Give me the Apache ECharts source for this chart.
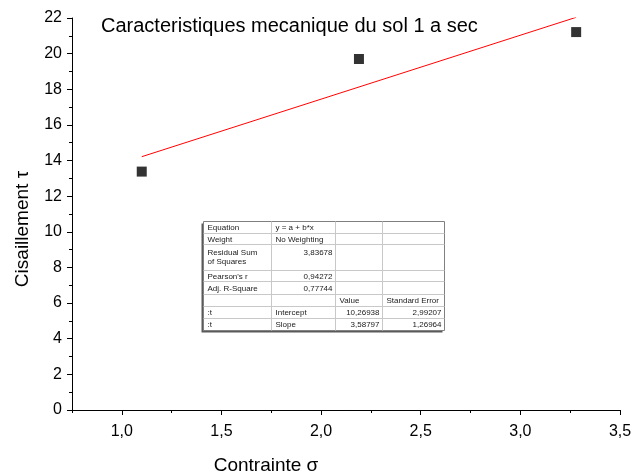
<!DOCTYPE html>
<html>
<head>
<meta charset="utf-8">
<title>Caracteristiques mecanique du sol 1 a sec</title>
<script src="https://cdn.jsdelivr.net/npm/echarts@6/dist/echarts.min.js"></script>
<style>
  html, body { margin: 0; padding: 0; background: #ffffff; }
  #chart { width: 635px; height: 474px; }
</style>
</head>
<body>
<div id="chart"></div>
<script>
// Measured points: normal stress (sigma) vs shear stress (tau)
const contrainte = [1.10, 2.19, 3.28];
const cisaillement = [13.38, 19.70, 21.21];

// Linear fit y = a + b*x
const fitIntercept = 10.26938;
const fitSlope = 3.58797;
const fitInterceptErr = 2.99207;
const fitSlopeErr = 1.26964;
const residualSS = 3.83678;
const pearsonR = 0.94272;
const adjR2 = 0.77744;

// Axis ticks
const xMajorTicks = [1.0, 1.5, 2.0, 2.5, 3.0, 3.5];
const xMinorTicks = [0.75, 1.25, 1.75, 2.25, 2.75, 3.25];

const fr = (v, d) => v.toFixed(d).replace('.', ',');

// Fit statistics table
const tableRows = [
  ['Equation', 'y = a + b*x', '', ''],
  ['Weight', 'No Weighting', '', ''],
  ['Residual Sum\nof Squares', fr(residualSS, 5), '', ''],
  ["Pearson's r", fr(pearsonR, 5), '', ''],
  ['Adj. R-Square', fr(adjR2, 5), '', ''],
  ['', '', 'Value', 'Standard Error'],
  [':t', 'Intercept', fr(fitIntercept, 5), fr(fitInterceptErr, 5)],
  [':t', 'Slope', fr(fitSlope, 5), fr(fitSlopeErr, 5)]
];

const FONT = '"Liberation Sans", Arial, sans-serif';

function buildTable() {
  const colW = [68, 64, 47, 62];
  const rowH = [12, 11, 26, 11, 13, 12, 12, 12];
  const W = colW.reduce((s, v) => s + v, 0);
  const H = rowH.reduce((s, v) => s + v, 0);
  const children = [];
  // drop shadow on the left and bottom
  children.push({ type: 'rect', shape: { x: -2, y: 2, width: W, height: H }, style: { fill: '#5a5a5a' } });
  children.push({ type: 'rect', shape: { x: 0, y: 0, width: W, height: H }, style: { fill: '#ffffff', stroke: '#808080', lineWidth: 1 } });
  let y = 0;
  rowH.forEach((h, r) => {
    if (r > 0) children.push({ type: 'line', shape: { x1: 0, y1: y, x2: W, y2: y }, style: { stroke: '#c8c8c8', lineWidth: 1 } });
    y += h;
  });
  let x = 0;
  colW.forEach((w, c) => {
    if (c > 0) children.push({ type: 'line', shape: { x1: x, y1: 0, x2: x, y2: H }, style: { stroke: '#c8c8c8', lineWidth: 1 } });
    x += w;
  });
  let top = 0;
  tableRows.forEach((row, r) => {
    const h = rowH[r];
    const multi = row[0].indexOf('\n') >= 0;
    let left = 0;
    row.forEach((txt, c) => {
      if (txt) {
        const numeric = /^[\d,]+$/.test(txt);
        children.push({
          type: 'text',
          x: numeric ? left + colW[c] - 3 : left + 4,
          y: multi ? top + 4 : top + h / 2 + 0.5,
          style: {
            text: txt,
            fill: '#1a1a1a',
            font: '8px ' + FONT,
            align: numeric ? 'right' : 'left',
            verticalAlign: multi ? 'top' : 'middle',
            lineHeight: 9
          }
        });
      }
      left += colW[c];
    });
    top += h;
  });
  return { type: 'group', x: 203.5, y: 221.5, children: children };
}

const xLo = Math.min(...contrainte);
const xHi = Math.max(...contrainte);

const chart = echarts.init(document.getElementById('chart'), null, { renderer: 'canvas' });
chart.setOption({
  animation: false,
  backgroundColor: '#ffffff',
  textStyle: { fontFamily: FONT },
  title: {
    text: 'Caracteristiques mecanique du sol 1 a sec',
    left: 96,
    top: 11,
    textStyle: { fontFamily: FONT, fontSize: 20, fontWeight: 'normal', color: '#000' }
  },
  grid: { left: 72, right: 15, top: 18, bottom: 64, outerBoundsMode: 'none' },
  xAxis: [
    {
      type: 'value',
      position: 'bottom',
      min: 0.75,
      max: 3.5,
      name: 'Contrainte σ',
      nameLocation: 'middle',
      nameGap: 46,
      nameTextStyle: { fontFamily: FONT, fontSize: 19, color: '#000', padding: [0, 160, 0, 0] },
      axisLine: { show: true, onZero: false, lineStyle: { color: '#000', width: 1 } },
      axisTick: { show: true, inside: false, length: 5, customValues: xMajorTicks, lineStyle: { color: '#000', width: 1 } },
      axisLabel: { show: true, customValues: xMajorTicks, margin: 14, fontSize: 16, color: '#000', fontFamily: FONT, formatter: v => fr(v, 1) },
      splitLine: { show: false }
    },
    {
      type: 'value',
      position: 'bottom',
      min: 0.75,
      max: 3.5,
      axisLine: { show: false },
      axisTick: { show: true, inside: false, length: 3, customValues: xMinorTicks, lineStyle: { color: '#000', width: 1 } },
      axisLabel: { show: false },
      splitLine: { show: false }
    }
  ],
  yAxis: {
    type: 'value',
    min: 0,
    max: 22,
    interval: 2,
    name: 'Cisaillement τ',
    nameLocation: 'middle',
    nameGap: 40,
    nameTextStyle: { fontFamily: FONT, fontSize: 19, color: '#000', padding: [0, 30, 0, 0] },
    axisLine: { show: true, onZero: false, lineStyle: { color: '#000', width: 1 } },
    axisTick: { show: true, inside: false, length: 5, lineStyle: { color: '#000', width: 1 } },
    minorTick: { show: true, splitNumber: 2, length: 3, lineStyle: { color: '#000', width: 1 } },
    axisLabel: { margin: 10, fontSize: 16, color: '#000', fontFamily: FONT },
    splitLine: { show: false }
  },
  series: [
    {
      name: 'fit',
      type: 'line',
      xAxisIndex: 0,
      data: [[xLo, fitIntercept + fitSlope * xLo], [xHi, fitIntercept + fitSlope * xHi]],
      symbol: 'none',
      lineStyle: { color: '#ff0000', width: 1 },
      z: 2
    },
    {
      name: 'Cisaillement',
      type: 'scatter',
      xAxisIndex: 0,
      data: contrainte.map((x, i) => [x, cisaillement[i]]),
      symbol: 'rect',
      symbolSize: 10,
      itemStyle: { color: '#000000' },
      z: 3
    }
  ],
  graphic: [buildTable()]
});
</script>
</body>
</html>
